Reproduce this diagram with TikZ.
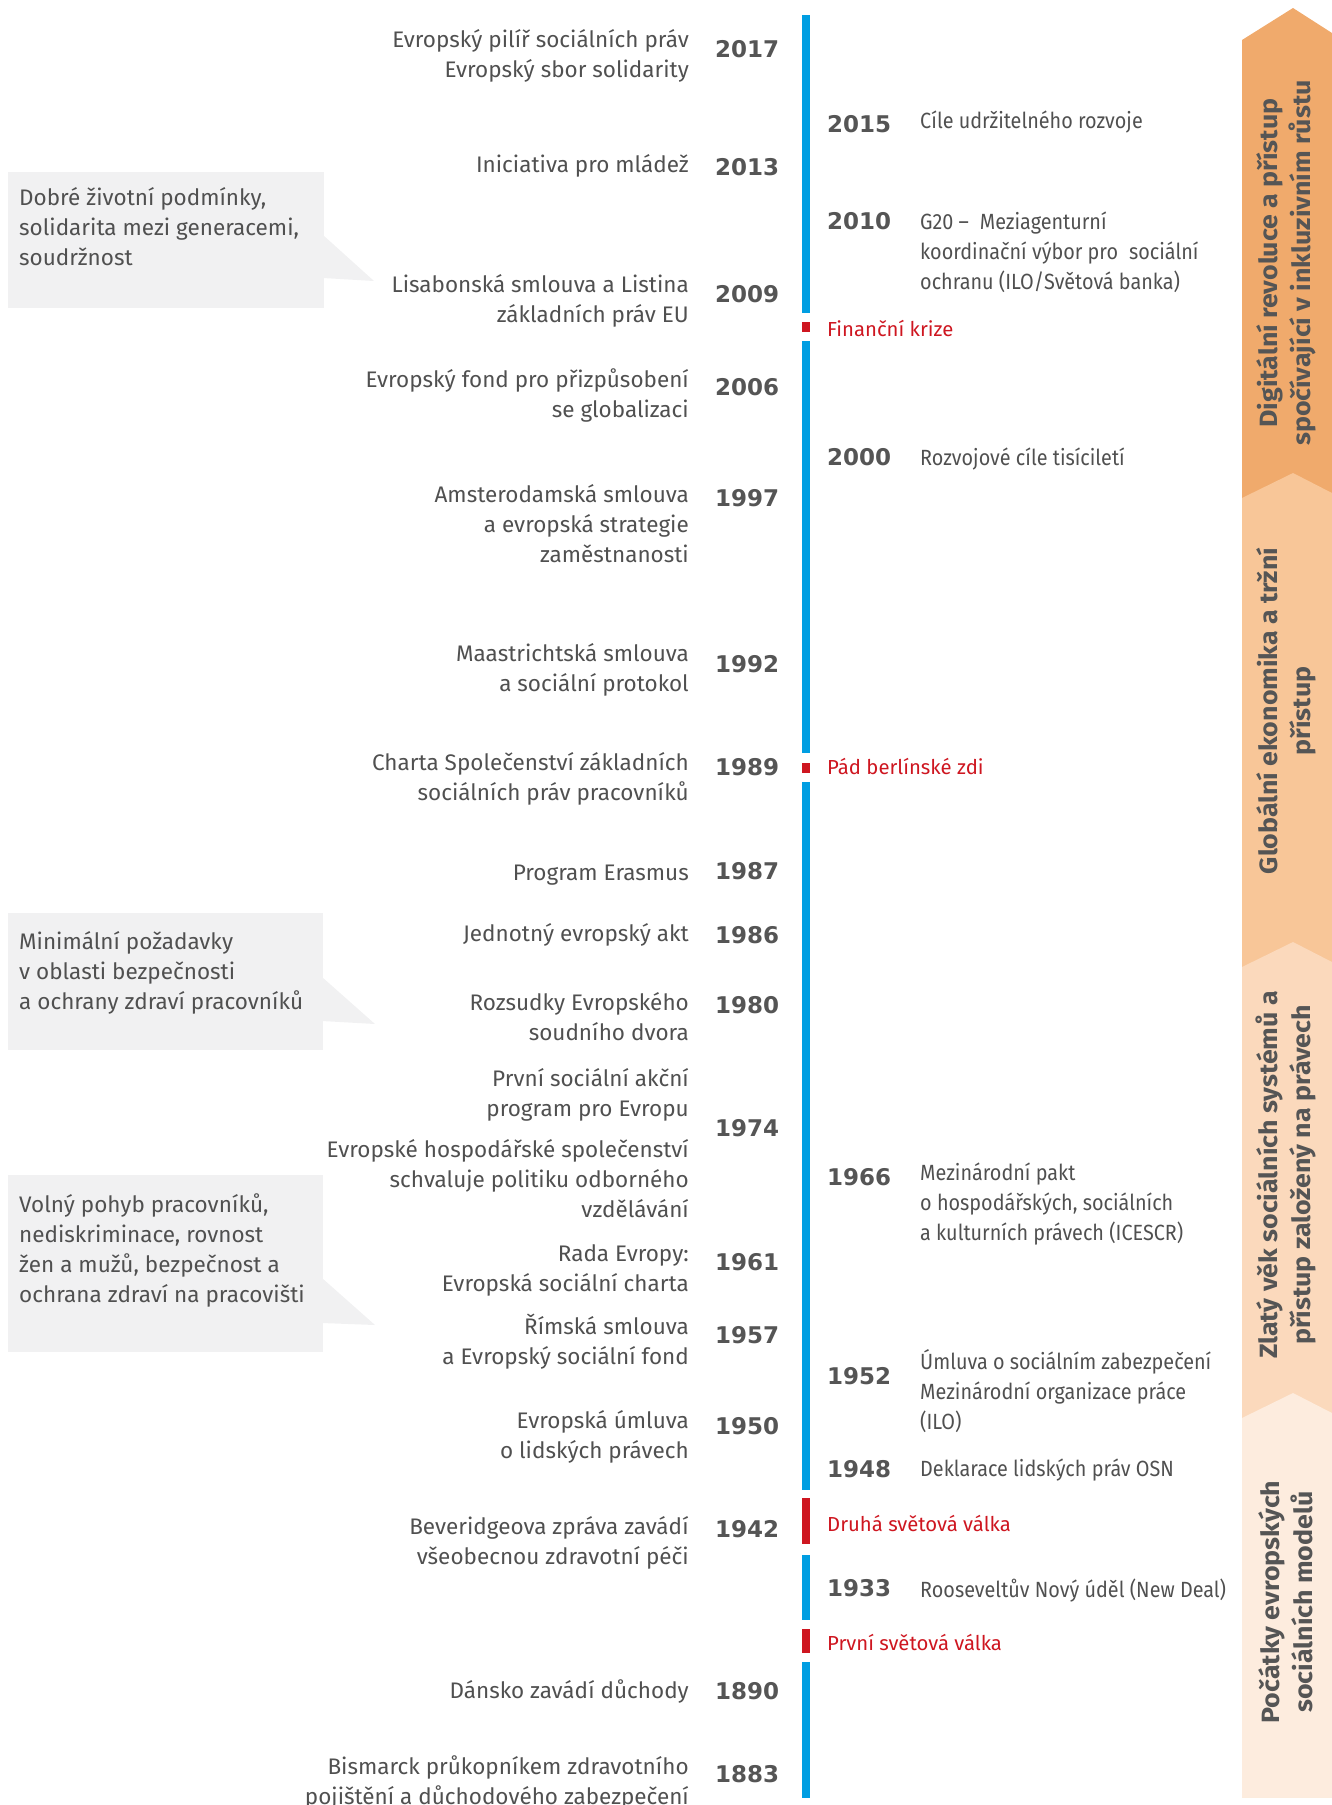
\documentclass[tikz,border=0pt]{standalone}
\usepackage{fontspec}
\setmainfont{Fira Sans}
\newfontfamily\leftf{Fira Sans}
\newfontfamily\rightf[FakeStretch=0.9]{Fira Sans}
\newfontfamily\bandf[FakeStretch=1.07]{Fira Sans}
\newfontfamily\yearf{DejaVu Sans}
\definecolor{txt}{RGB}{80,80,80}
\definecolor{yr}{RGB}{85,85,85}
\definecolor{eublue}{RGB}{0,158,226}
\definecolor{eured}{RGB}{206,22,32}
\definecolor{boxg}{RGB}{241,241,242}
\definecolor{bA}{RGB}{240,170,108}
\definecolor{bB}{RGB}{248,198,152}
\definecolor{bC}{RGB}{251,217,188}
\definecolor{bD}{RGB}{253,236,222}
\definecolor{bandtxt}{RGB}{85,85,85}
\newcommand\ls{\rule[-8pt]{0pt}{30pt}}
\begin{document}
\begin{tikzpicture}[x=1pt,y=-1pt,
  lt/.style={anchor=north east, align=right, inner sep=0pt, text=txt, font=\leftf\fontsize{22.5}{30}\selectfont},
  rt/.style={anchor=north west, align=left, inner sep=0pt, text=txt, font=\rightf\fontsize{22}{30}\selectfont},
  yearl/.style={anchor=west, inner sep=0pt, text=yr, font=\yearf\bfseries\fontsize{23}{30}\selectfont},
  event/.style={anchor=north west, inner sep=0pt, text=eured, font=\fontsize{20.3}{30}\selectfont},
  note/.style={anchor=north west, align=left, inner sep=0pt, text=txt, font=\fontsize{22.5}{30}\selectfont},
  bandlabel/.style={rotate=90, align=center, inner sep=0pt, text=bandtxt, font=\bandf\bfseries\fontsize{25}{33}\selectfont},
  bluebar/.style={fill=eublue, draw=none},
  redbar/.style={fill=eured, draw=none},
  callout/.style={fill=boxg, draw=none}
]
\useasboundingbox (0,0) rectangle (1332,1805);

% ---------- right bands ----------
\fill[bA] (1242,40) -- (1293,8) -- (1332,33) -- (1332,1797) -- (1242,1797) -- cycle;
\fill[bB] (1242,498) -- (1293,473) -- (1332,493) -- (1332,1797) -- (1242,1797) -- cycle;
\fill[bC] (1242,967) -- (1293,942) -- (1332,962) -- (1332,1797) -- (1242,1797) -- cycle;
\fill[bD] (1242,1418) -- (1293,1393) -- (1332,1413) -- (1332,1797) -- (1242,1797) -- cycle;

\node[bandlabel] (bandA) at (1286,263) {Digitální revoluce a přístup\\spočívající v inkluzivním růstu};
\node[bandlabel] (bandB) at (1286,711) {Globální ekonomika a tržní\\přístup};
\node[bandlabel] (bandC) at (1286,1175) {Zlatý věk sociálních systémů a\\přístup založený na právech};
\node[bandlabel] (bandD) at (1286,1602) {Počátky evropských\\sociálních modelů};

% ---------- timeline bar ----------
\fill[bluebar] (802,15) rectangle (810,313);
\fill[redbar]  (802,322) rectangle (810,332);
\fill[bluebar] (802,341) rectangle (810,753);
\fill[redbar]  (802,763) rectangle (810,773);
\fill[bluebar] (802,782) rectangle (810,1490);
\fill[redbar]  (802,1498) rectangle (810,1544);
\fill[bluebar] (802,1555) rectangle (810,1620);
\fill[redbar]  (802,1629) rectangle (810,1653);
\fill[bluebar] (802,1662) rectangle (810,1798);

% ---------- callouts ----------
\fill[callout] (8,172) rectangle (324,308);
\fill[callout] (323,235) -- (374,281) -- (323,278) -- cycle;
\node[note] (n1) at (19,183) {\ls Dobré životní podmínky,\\\ls solidarita mezi generacemi,\\\ls soudržnost};

\fill[callout] (8,913) rectangle (323,1050);
\fill[callout] (322,977) -- (375,1024) -- (322,1021) -- cycle;
\node[note] (n2) at (19,927) {\ls Minimální požadavky\\\ls v oblasti bezpečnosti\\\ls a ochrany zdraví pracovníků};

\fill[callout] (8,1175) rectangle (323,1352);
\fill[callout] (322,1278) -- (375,1325) -- (322,1323) -- cycle;
\node[note] (n3) at (19,1190) {\ls Volný pohyb pracovníků,\\\ls nediskriminace, rovnost\\\ls žen a mužů, bezpečnost a\\\ls ochrana zdraví na pracovišti};

% ---------- left column ----------
\node[lt] (t2017) at (689,25) {\ls Evropský pilíř sociálních práv\\\ls Evropský sbor solidarity};
\node[yearl] (y2017) at (715,49.5) {2017};
\node[lt] (t2013) at (689,150) {\ls Iniciativa pro mládež};
\node[yearl] (y2013) at (715,167) {2013};
\node[lt] (t2009) at (689,270) {\ls Lisabonská smlouva a Listina\\\ls základních práv EU};
\node[yearl] (y2009) at (715,294) {2009};
\node[lt] (t2006) at (689,365) {\ls Evropský fond pro přizpůsobení\\\ls se globalizaci};
\node[yearl] (y2006) at (715,387) {2006};
\node[lt] (t1997) at (689,480) {\ls Amsterodamská smlouva\\\ls a evropská strategie\\\ls zaměstnanosti};
\node[yearl] (y1997) at (715,498.5) {1997};
\node[lt] (t1992) at (689,639) {\ls Maastrichtská smlouva\\\ls a sociální protokol};
\node[yearl] (y1992) at (715,664) {1992};
\node[lt] (t1989) at (689,748) {\ls Charta Společenství základních\\\ls sociálních práv pracovníků};
\node[yearl] (y1989) at (715,767) {1989};
\node[lt] (t1987) at (689,858) {\ls Program Erasmus};
\node[yearl] (y1987) at (715,871.5) {1987};
\node[lt] (t1986) at (689,919) {\ls Jednotný evropský akt};
\node[yearl] (y1986) at (715,935) {1986};
\node[lt] (t1980) at (689,988) {\ls Rozsudky Evropského\\\ls soudního dvora};
\node[yearl] (y1980) at (715,1005) {1980};
\node[lt] (t1974a) at (689,1064) {\ls První sociální akční\\\ls program pro Evropu};
\node[lt] (t1974b) at (689,1135) {\ls Evropské hospodářské společenství\\\ls schvaluje politiku odborného\\\ls vzdělávání};
\node[yearl] (y1974) at (715,1128) {1974};
\node[lt] (t1961) at (689,1239) {\ls Rada Evropy:\\\ls Evropská sociální charta};
\node[yearl] (y1961) at (715,1262) {1961};
\node[lt] (t1957) at (689,1312) {\ls Římská smlouva\\\ls a Evropský sociální fond};
\node[yearl] (y1957) at (715,1335) {1957};
\node[lt] (t1950) at (689,1406) {\ls Evropská úmluva\\\ls o lidských právech};
\node[yearl] (y1950) at (715,1426) {1950};
\node[lt] (t1942) at (689,1512) {\ls Beveridgeova zpráva zavádí\\\ls všeobecnou zdravotní péči};
\node[yearl] (y1942) at (715,1529) {1942};
\node[lt] (t1890) at (689,1676) {\ls Dánsko zavádí důchody};
\node[yearl] (y1890) at (715,1691) {1890};
\node[lt] (t1883) at (689,1752) {\ls Bismarck průkopníkem zdravotního\\\ls pojištění a důchodového zabezpečení};
\node[yearl] (y1883) at (715,1774) {1883};

% ---------- right column ----------
\node[yearl] (y2015) at (827,124) {2015};
\node[rt] (t2015) at (920,106) {\ls Cíle udržitelného rozvoje};
\node[yearl] (y2010) at (827,221) {2010};
\node[rt] (t2010) at (920,207) {\ls G20 –\enspace Meziagenturní\\\ls koordinační výbor pro\enspace sociální\\\ls ochranu (ILO/Světová banka)};
\node[event] (ev1) at (827,314) {\ls Finanční krize};
\node[yearl] (y2000) at (827,457) {2000};
\node[rt] (t2000) at (920,443) {\ls Rozvojové cíle tisíciletí};
\node[event] (ev2) at (827,752) {\ls Pád berlínské zdi};
\node[yearl] (y1966) at (827,1177) {1966};
\node[rt] (t1966) at (920,1158) {\ls Mezinárodní pakt\\\ls o hospodářských, sociálních\\\ls a kulturních právech (ICESCR)};
\node[yearl] (y1952) at (827,1376) {1952};
\node[rt] (t1952) at (920,1347) {\ls Úmluva o sociálním zabezpečení\\\ls Mezinárodní organizace práce\\\ls (ILO)};
\node[yearl] (y1948) at (827,1469) {1948};
\node[rt] (t1948) at (920,1454) {\ls Deklarace lidských práv OSN};
\node[event] (ev3) at (827,1509) {\ls Druhá světová válka};
\node[yearl] (y1933) at (827,1588) {1933};
\node[rt] (t1933) at (920,1575) {\ls Rooseveltův Nový úděl (New Deal)};
\node[event] (ev4) at (827,1628) {\ls První světová válka};
\end{tikzpicture}
\end{document}
